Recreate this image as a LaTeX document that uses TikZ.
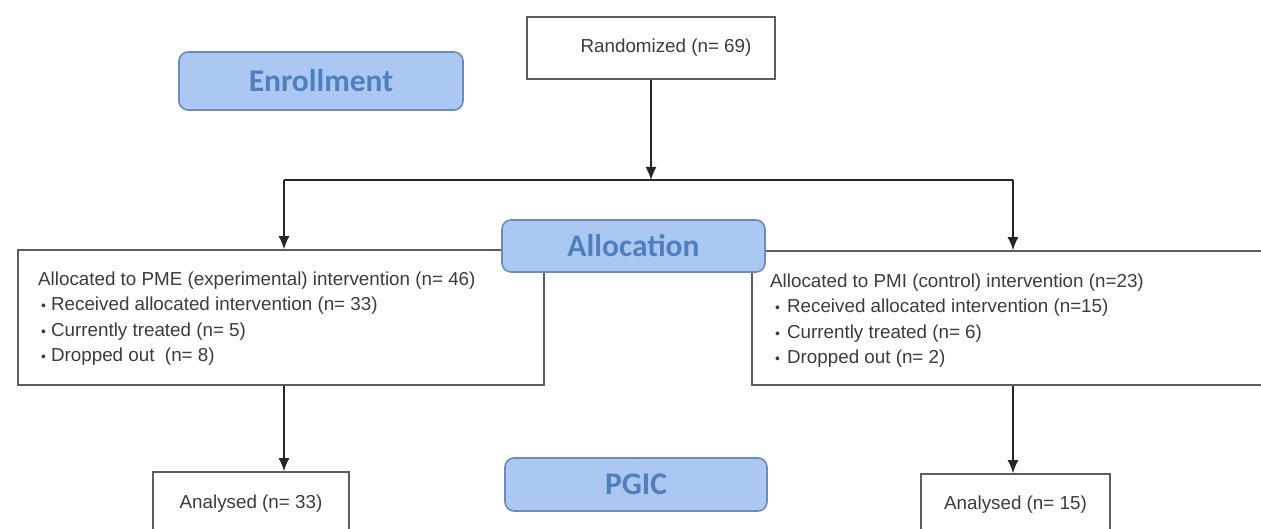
\documentclass[tikz,border=0pt]{standalone}
\usepackage{fontspec}
\setmainfont{Liberation Sans}
\newfontfamily\calib{Carlito}
\usetikzlibrary{arrows.meta}
\definecolor{txt}{HTML}{3C3C3C}
\definecolor{bord}{HTML}{5E5E5E}
\definecolor{lblue}{HTML}{ABC8F2}
\definecolor{bblue}{HTML}{6A8BBE}
\definecolor{tblue}{HTML}{4F7FC0}
\newcommand{\bulL}{\hspace{3pt}{\fontsize{14}{14}\selectfont •}\hspace{5pt}}
\newcommand{\bulR}{\hspace{5pt}{\fontsize{14}{14}\selectfont •}\hspace{7pt}}
\begin{document}
\begin{tikzpicture}[x=1pt,y=-1pt,
  box/.style={draw=bord, line width=1.6pt, fill=white, text=txt, font=\fontsize{18.8}{22}\selectfont, inner sep=0},
  stage/.style={draw=bblue, line width=1.6pt, fill=lblue, rounded corners=9pt, text=tblue, font=\calib\bfseries\fontsize{31.5}{31.5}\selectfont, inner sep=0},
  conn/.style={draw=black!85, line width=1.6pt},
  arr/.style={conn, -{Latex[length=13pt,width=11pt]}},
  lines/.style={anchor=north west, align=left, inner sep=0, text=txt, font=\fontsize{18.8}{25.5}\selectfont}]
\useasboundingbox (0,0) rectangle (1261,529);
\fill[white] (0,0) rectangle (1261,529);

% boxes
\node[box, minimum width=248pt, minimum height=62pt] (rand) at (651,48) {\hspace{30pt}Randomized (n= 69)};
\node[box, minimum width=526pt, minimum height=135pt] (left) at (281,317.5) {};
\node[box, minimum width=519pt, minimum height=134pt] (right) at (1011.5,318) {};
\node[box, minimum width=196pt, minimum height=63pt] (anl) at (251,503.5) {Analysed (n= 33)\hspace{16pt}};
\node[box, minimum width=189pt, minimum height=61pt] (anr) at (1015.5,504.5) {Analysed (n= 15)\hspace{16pt}};

\node[lines] (ltxt) at (38,271.5) {Allocated to PME (experimental) intervention (n= 46)\\
\bulL Received allocated intervention (n= 33)\\
\bulL Currently treated (n= 5)\\
\bulL Dropped out \ (n= 8)};
\node[lines] (rtxt) at (770,273.5) {Allocated to PMI (control) intervention (n=23)\\
\bulR Received allocated intervention (n=15)\\
\bulR Currently treated (n= 6)\\
\bulR Dropped out (n= 2)};

% connectors
\coordinate (jl) at (284,180);
\coordinate (jr) at (1013,180);
\coordinate (jm) at (rand.south |- jl);
\draw[arr] (rand.south) -- (jm);
\draw[conn] (jl) -- (jr);
\draw[arr] (jl) -- (jl |- left.north);
\draw[arr] (jr) -- (jr |- right.north);
\draw[arr] (jl |- left.south) -- (jl |- anl.north);
\draw[arr] (jr |- right.south) -- (jr |- anr.north);

% stage labels
\node[stage, minimum width=284pt, minimum height=58pt] (enr) at (321,81) {Enrollment};
\node[stage, minimum width=263pt, minimum height=52pt] (alloc) at (633.5,246) {Allocation};
\node[stage, minimum width=262pt, minimum height=53pt] (pgic) at (636,484.5) {PGIC};
\end{tikzpicture}
\end{document}
